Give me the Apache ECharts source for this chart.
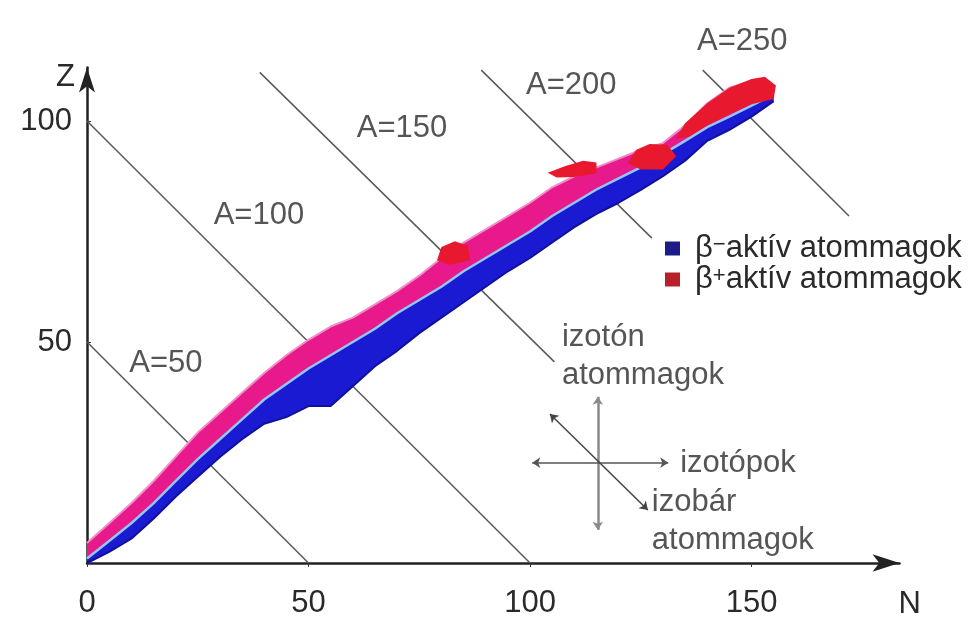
<!DOCTYPE html>
<html>
<head>
<meta charset="utf-8">
<script src="https://cdn.jsdelivr.net/npm/echarts@6/dist/echarts.min.js"></script>
<style>
  html, body { margin: 0; padding: 0; background: #fff; }
  #chart { width: 973px; height: 633px; }
</style>
</head>
<body>
<div id="chart"></div>
<script>
// neutronszam (N) mintapontok es a sav hatarai (Z)
const neutronN = [0, 5, 10, 15, 20, 25, 30, 35, 40, 45, 50, 55, 60, 65, 70, 75, 80, 85, 90, 95, 100, 105, 110, 115, 120, 125, 130, 135, 140, 145, 150, 155];
const zTop = [4.5, 9, 13.5, 18.5, 24, 29.5, 34, 38.5, 43, 47, 50.5, 53.5, 55.5, 58.5, 61.5, 65, 69, 72.5, 75.5, 78.5, 81.5, 85, 87.5, 89.5, 91.5, 93.5, 95, 99, 104, 107.5, 109, 108];
const zStable = [1, 5, 9, 13.5, 18.5, 23.5, 28, 32.5, 37, 40.5, 44, 47, 50, 53, 56.5, 59.5, 62.5, 66, 69, 72, 75, 78.5, 81.5, 84.5, 87, 89.5, 92.5, 95.5, 98.6, 101, 103.5, 106];
const zBottom = [0, 2.5, 5.5, 10, 15, 19.5, 24, 28, 31.5, 33, 35.5, 35.5, 40, 44.5, 48, 52, 55.5, 59, 62.5, 66, 69, 72.5, 76, 79, 81.5, 84.4, 87.5, 91, 95.5, 98, 101, 104.5];

// vörös foltok (beta+), [N, Z] csucsok
const redPatches = [
  [[79, 68.5], [80, 71.5], [83, 72.8], [86, 71.8], [86.5, 68.5], [82, 67.5]],
  [[104, 88.3], [108, 89.8], [112, 91], [115, 90.6], [115, 88.2], [110, 87.3], [106, 87.2]],
  [[122, 90.5], [124, 93.5], [127, 94.8], [131, 94.6], [133, 92], [130, 89], [125, 89]],
  [[133, 96], [135, 99.5], [140, 104], [145, 107.5], [150, 109.5], [153, 110], [155.5, 108], [155, 105], [150, 103.8], [145, 101.5], [140, 99], [136, 96.5]]
];

// izobar vonalak
const isobarA = [50, 100, 150, 200, 250];
const isobarStart = [[0, 50], [0, 100], [39, 111], [89, 111.5], [139, 111.5]];
const isobarEnd = [[50, 0], [100, 0], [105.5, 45.5], [127.5, 73.5], [172, 78.5]];
const isobarLabelPos = [[17.8, 45.2], [38.8, 78.7], [71.1, 98.4], [109.3, 108.1], [147.9, 117.9]];

// jelmagyarazo nyilak
const arrowLines = [
  [[115.3, 37.6], [115.3, 7.5]],
  [[100.5, 22.7], [131.2, 22.7]],
  [[104.5, 33.7], [126.6, 12]]
];
const noteTexts = ['izotón', 'atommagok', 'izotópok', 'izobár', 'atommagok'];
const notePos = [[107.2, 51.1], [107.2, 42.5], [133.9, 22.6], [127.5, 13.6], [127.5, 5.0]];

const xTicks = [0, 50, 100, 150];
const yTicks = [50, 100];

const BETA_MINUS = 'β− aktív atommagok';
const BETA_PLUS = 'β+ aktív atommagok';
const FONT = "'Liberation Sans', Arial, sans-serif";
const TEXT = '#2a2a2a';

// sav poligonok: also hatar elore, felso hatar visszafele
const bandPolygon = (lower, upper) =>
  neutronN.map((n, i) => [n, lower[i]]).concat(neutronN.map((n, i) => [n, upper[i]]).reverse());

const bandSeries = (name, lower, upper, fill, z) => ({
  name: name,
  type: 'custom',
  silent: true,
  z: z,
  itemStyle: { color: fill },
  data: [[neutronN[0], lower[0]]],
  renderItem: (params, api) => ({
    type: 'polygon',
    shape: { points: bandPolygon(lower, upper).map(p => api.coord(p)) },
    style: { fill: fill }
  })
});

const edgeLine = (name, values, color, width, z) => ({
  name: name,
  type: 'line',
  symbol: 'none',
  silent: true,
  z: z,
  lineStyle: { color: color, width: width },
  data: neutronN.map((n, i) => [n, values[i]])
});

const chart = echarts.init(document.getElementById('chart'));

const option = {
  backgroundColor: '#fff',
  animation: false,
  textStyle: { fontFamily: FONT },
  grid: { left: 87, right: 73.5, top: 67.5, bottom: 70 },
  legend: {
    orient: 'vertical',
    left: 665,
    top: 233,
    padding: 0,
    itemGap: 0,
    itemWidth: 15,
    itemHeight: 14,
    icon: 'rect',
    data: [
      { name: BETA_MINUS, itemStyle: { color: '#1c1c88' } },
      { name: BETA_PLUS, itemStyle: { color: '#b8202c' } }
    ],
    formatter: name => (name === BETA_MINUS ? '{b|β}{s|−}' : '{b|β}{s|+}') + '{t|aktív atommagok}',
    textStyle: {
      fontSize: 31,
      color: TEXT,
      rich: {
        b: { fontSize: 31, lineHeight: 29, padding: [0, 0, 0, 10], color: TEXT },
        s: { fontSize: 22, lineHeight: 16, verticalAlign: 'top', color: TEXT },
        t: { fontSize: 31, lineHeight: 29, color: TEXT }
      }
    }
  },
  xAxis: {
    type: 'value',
    min: 0,
    max: 183.4,
    interval: 50,
    name: 'N',
    nameLocation: 'end',
    nameGap: -1,
    nameTextStyle: { fontSize: 31, color: TEXT, verticalAlign: 'top', padding: [26, 0, 0, 0] },
    splitLine: { show: false },
    axisLine: {
      lineStyle: { color: '#222', width: 2.5 },
      symbol: ['none', 'arrow'],
      symbolSize: [13, 27]
    },
    axisTick: { length: 4, lineStyle: { color: '#333' } },
    axisLabel: {
      fontSize: 31,
      color: TEXT,
      margin: 25,
      showMaxLabel: false,
      formatter: v => (xTicks.includes(v) ? String(v) : '')
    }
  },
  yAxis: {
    type: 'value',
    min: 0,
    max: 112.1,
    interval: 50,
    name: 'Z',
    nameLocation: 'end',
    nameGap: -10,
    nameTextStyle: { fontSize: 31, color: TEXT, align: 'right', verticalAlign: 'middle', padding: [0, 12, 0, 0] },
    splitLine: { show: false },
    axisLine: {
      lineStyle: { color: '#222', width: 2.5 },
      symbol: ['none', 'arrow'],
      symbolSize: [12, 25]
    },
    axisTick: { length: 4, inside: true, lineStyle: { color: '#333' } },
    axisLabel: {
      fontSize: 31,
      color: TEXT,
      margin: 15,
      showMaxLabel: false,
      formatter: v => (yTicks.includes(v) ? String(v) : '')
    }
  },
  series: [
    {
      name: 'izobárok',
      type: 'lines',
      coordinateSystem: 'cartesian2d',
      clip: false,
      silent: true,
      z: 1,
      lineStyle: { color: '#5a5a5a', width: 1.5, opacity: 1 },
      data: isobarA.map((a, i) => ({ name: 'A=' + a, coords: [isobarStart[i], isobarEnd[i]] }))
    },
    bandSeries(BETA_PLUS, zStable, zTop, '#e8198a', 2),
    bandSeries(BETA_MINUS, zBottom, zStable, '#1a1ad2', 2),
    edgeLine('felső szél', zTop, '#f08cc8', 2, 3),
    edgeLine('alsó szél', zBottom, '#10109a', 2, 3),
    edgeLine('stabil', zStable, '#8ec8f8', 2.5, 3),
    {
      name: 'vörös foltok',
      type: 'custom',
      silent: true,
      z: 4,
      data: redPatches.map(p => p[0]),
      renderItem: (params, api) => ({
        type: 'polygon',
        shape: { points: redPatches[params.dataIndex].map(p => api.coord(p)) },
        style: { fill: '#e8182e' }
      })
    },
    {
      name: 'nyilak',
      type: 'lines',
      coordinateSystem: 'cartesian2d',
      clip: false,
      silent: true,
      z: 5,
      symbol: ['arrow', 'arrow'],
      symbolSize: 8,
      data: [
        { coords: arrowLines[0], lineStyle: { color: '#8a8a8a', width: 2.5 } },
        { coords: arrowLines[1], lineStyle: { color: '#555', width: 1.5 } },
        { coords: arrowLines[2], lineStyle: { color: '#444', width: 1.5 } }
      ],
      lineStyle: { opacity: 1 }
    },
    {
      name: 'feliratok',
      type: 'scatter',
      clip: false,
      silent: true,
      z: 6,
      symbolSize: 1,
      itemStyle: { color: 'rgba(0,0,0,0)' },
      label: {
        show: true,
        position: 'inside',
        formatter: '{b}',
        fontSize: 31,
        color: TEXT,
        fontFamily: FONT
      },
      data: isobarA.map((a, i) => ({ name: 'A=' + a, value: isobarLabelPos[i] }))
        .concat(noteTexts.map((t, i) => ({ name: t, value: notePos[i], label: { align: 'left' } })))
    }
  ]
};

chart.setOption(option);
</script>
</body>
</html>
